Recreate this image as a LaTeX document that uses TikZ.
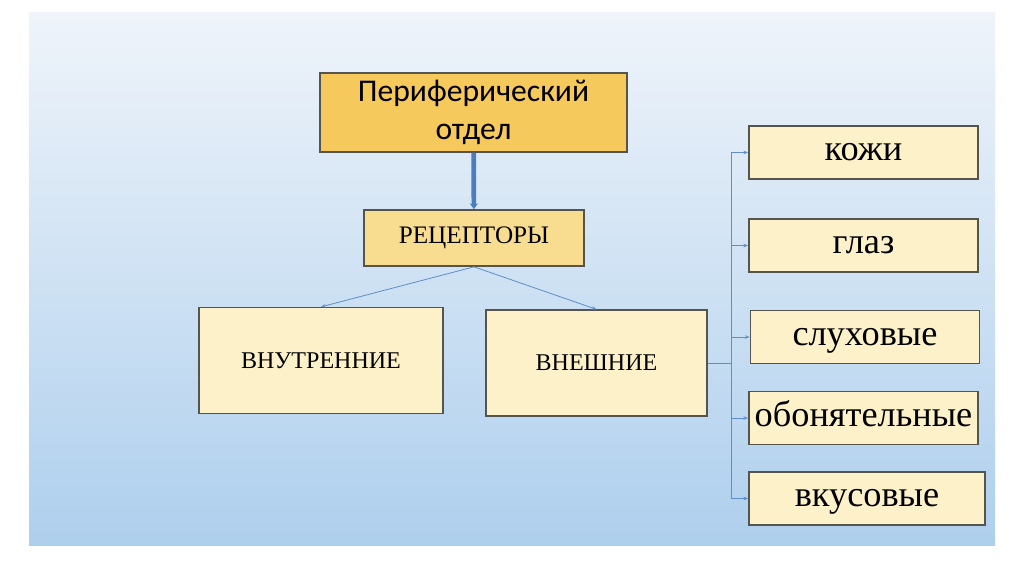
\documentclass[tikz,border=0pt]{standalone}
\usepackage{fontspec}
\setmainfont{Liberation Serif}
\newfontfamily\headfont{Carlito}
\usetikzlibrary{arrows.meta}

\definecolor{slidetop}{HTML}{EFF4FA}
\definecolor{slidemid}{HTML}{D6E6F5}
\definecolor{slidebot}{HTML}{AECFED}
\definecolor{goldfill}{HTML}{F5C95C}
\definecolor{recfill}{HTML}{F8DD90}
\definecolor{creamfill}{HTML}{FDF1C9}
\definecolor{boxline}{HTML}{55554E}
\definecolor{linkblue}{HTML}{5F8FCB}
\definecolor{thickblue}{HTML}{4A7EBF}

\begin{document}
\begin{tikzpicture}[x=0.03cm, y=-0.03cm,
    box/.style={draw=boxline, line width=1.4pt, inner sep=0pt, align=center},
    headbox/.style={box, fill=goldfill, minimum width=9.21cm, minimum height=2.37cm,
      font=\headfont\fontsize{27}{32}\selectfont},
    recbox/.style={box, fill=recfill, minimum width=6.6cm, minimum height=1.68cm,
      font=\fontsize{21.5}{24}\selectfont},
    kindbox/.style={box, fill=creamfill, minimum height=3.17cm,
      font=\fontsize{20.5}{24}\selectfont},
    organbox/.style={box, fill=creamfill, minimum width=6.87cm, minimum height=1.6cm,
      text height=14pt, text depth=0pt, font=\fontsize{31}{34}\selectfont},
    link/.style={draw=linkblue, line width=0.7pt, -{Stealth[length=4pt, width=3pt]}}]
    \useasboundingbox (0,0) rectangle (1024,574);
    \fill[white] (0,0) rectangle (1024,574);

    % Slide
    \shade[top color=slidetop, middle color=slidemid, bottom color=slidebot]
      (29,12) rectangle (995,545);

    % Top
    \node[headbox] (periph) at (473.5,112.5) {Периферический\\отдел};
    \node[recbox] (recept) at (474,238) {РЕЦЕПТОРЫ};
    \draw[thickblue, line width=4pt, -{Stealth[length=5pt, width=7pt]}] (periph) -- (recept);

    % Two kinds
    \node[kindbox, minimum width=7.32cm] (inner) at (321,360.5) {ВНУТРЕННИЕ};
    \node[kindbox, minimum width=6.63cm] (outer) at (596.5,363) {ВНЕШНИЕ};
    \draw[link] (recept.south) -- (inner.north);
    \draw[link] (recept.south) -- (outer.north);

    % Outer receptors
    \node[organbox] (skin) at (863.5,152.5) {кожи};
    \node[organbox] (eye) at (863.5,245.5) {глаз};
    \node[organbox] (ear) at (865,337) {слуховые};
    \node[organbox] (nose) at (863.5,418) {обонятельные};
    \node[organbox, minimum width=7.08cm] (taste) at (867,498.5) {вкусовые};

    \coordinate (trunk) at (731,0);
    \draw[linkblue, line width=0.7pt] (outer.east) -- (outer.east -| trunk);
    \draw[linkblue, line width=0.7pt] (trunk |- skin) -- (trunk |- taste);
    \foreach \n in {skin, eye, ear, nose, taste}
      \draw[link] (trunk |- \n) -- (\n.west);
\end{tikzpicture}
\end{document}
